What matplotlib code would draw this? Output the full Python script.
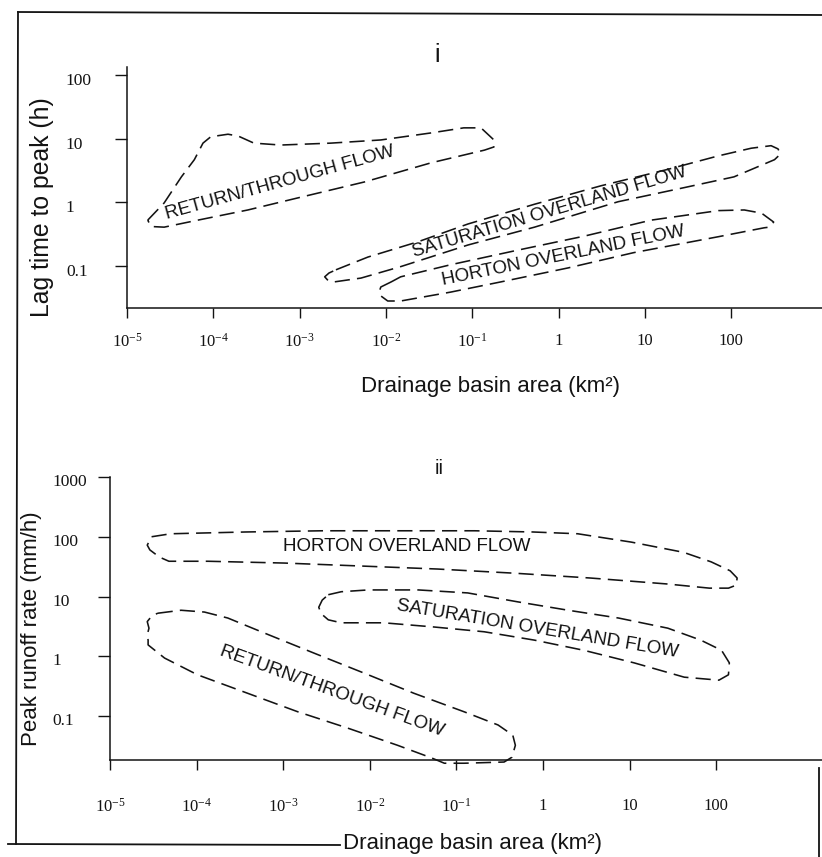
import numpy as np
import matplotlib
matplotlib.use('Agg')
import matplotlib.pyplot as plt
from matplotlib.lines import Line2D
import matplotlib.transforms as mtransforms

plt.rcParams['font.family'] = ['Liberation Sans', 'DejaVu Sans']
plt.rcParams['mathtext.fontset'] = 'custom'
plt.rcParams['mathtext.rm'] = 'Liberation Serif'
plt.rcParams['mathtext.it'] = 'Liberation Serif:italic'
plt.rcParams['mathtext.bf'] = 'Liberation Serif:bold'

# ---------------- data (log10 values) ----------------
x_ticks = [1e-5, 1e-4, 1e-3, 1e-2, 1e-1, 1, 10, 100]
x_tick_labels = [r'$\mathrm{10^{-5}}$', r'$\mathrm{10^{-4}}$', r'$\mathrm{10^{-3}}$',
                 r'$\mathrm{10^{-2}}$', r'$\mathrm{10^{-1}}$', '1', '10', '100']
lag_ticks = [0.1, 1, 10, 100]
lag_tick_labels = ['0.1', '1', '10', '100']
rate_ticks = [0.1, 1, 10, 100, 1000]
rate_tick_labels = ['0.1', '1', '10', '100', '1000']

# panel i : lag time to peak (h) vs drainage basin area (km2)
i_return_log_area = [-4.76, -4.57, -4.37, -4.22, -4.12, -4.03, -3.83, -3.71, -3.53, -3.22,
                     -2.64, -2.06, -1.48, -1.10, -0.90, -0.75, -0.75, -0.86, -1.48, -2.25,
                     -3.02, -3.60, -4.18, -4.57, -4.72]
i_return_log_lag = [-0.28, -0.01, 0.40, 0.67, 0.93, 1.03, 1.07, 1.04, 0.93, 0.90,
                    0.93, 0.98, 1.09, 1.17, 1.17, 0.98, 0.87, 0.82, 0.62, 0.32,
                    0.07, -0.12, -0.28, -0.39, -0.38]

i_saturation_log_area = [-2.58, -2.21, -1.63, -1.05, -0.28, 0.49, 1.27, 1.85, 2.23, 2.46,
                         2.54, 2.57, 2.50, 2.03, 1.45, 0.69, -0.28, -1.05, -1.83, -2.29,
                         -2.60, -2.67, -2.71, -2.66]
i_saturation_log_lag = [-1.06, -0.86, -0.62, -0.34, -0.03, 0.26, 0.52, 0.73, 0.85, 0.89,
                        0.84, 0.76, 0.67, 0.40, 0.23, 0.01, -0.39, -0.67, -1.01, -1.19,
                        -1.25, -1.23, -1.17, -1.11]

i_horton_log_area = [-1.94, -1.83, -1.25, -0.47, 0.30, 1.07, 1.85, 2.15, 2.35, 2.49,
                     2.44, 2.38, 1.85, 0.87, 0.11, -0.67, -1.25, -1.83, -1.98, -2.06,
                     -2.08, -2.06]
i_horton_log_lag = [-1.25, -1.17, -0.98, -0.75, -0.53, -0.28, -0.13, -0.12, -0.17, -0.31,
                    -0.39, -0.40, -0.54, -0.79, -1.03, -1.25, -1.41, -1.55, -1.55, -1.47,
                    -1.41, -1.33]

# panel ii : peak runoff rate (mm/h) vs drainage basin area (km2)
ii_horton_log_area = [-4.52, -4.30, -3.43, -2.55, -1.66, -0.79, -0.12, 0.40, 1.02, 1.62,
                      1.94, 2.16, 2.24, 2.23, 2.14, 1.92, 1.43, 0.54, -0.33, -1.22,
                      -2.10, -2.99, -3.87, -4.32, -4.43, -4.54, -4.57]
ii_horton_log_rate = [2.00, 2.05, 2.08, 2.10, 2.10, 2.10, 2.08, 2.05, 1.91, 1.74,
                      1.58, 1.43, 1.31, 1.19, 1.14, 1.14, 1.21, 1.31, 1.39, 1.46,
                      1.51, 1.56, 1.59, 1.59, 1.66, 1.78, 1.86]

ii_saturation_log_area = [-2.48, -2.33, -2.02, -1.44, -0.87, -0.29, 0.29, 0.87, 1.44, 1.82,
                          2.06, 2.15, 2.14, 2.03, 1.63, 1.05, 0.47, -0.10, -0.68, -1.26,
                          -1.84, -2.33, -2.48, -2.56, -2.59, -2.55]
ii_saturation_log_rate = [1.03, 1.08, 1.11, 1.11, 1.06, 0.91, 0.77, 0.64, 0.47, 0.27,
                          0.10, -0.11, -0.31, -0.40, -0.35, -0.11, 0.10, 0.27, 0.41, 0.49,
                          0.56, 0.56, 0.61, 0.71, 0.82, 0.94]

ii_return_log_area = [-4.45, -4.18, -3.91, -3.64, -3.22, -2.64, -2.07, -1.49, -0.91, -0.52,
                      -0.35, -0.32, -0.36, -0.45, -0.91, -1.14, -1.29, -1.68, -2.26, -2.83,
                      -3.41, -3.99, -4.37, -4.56, -4.56, -4.57, -4.55, -4.57, -4.52]
ii_return_log_rate = [0.72, 0.77, 0.74, 0.64, 0.39, 0.05, -0.28, -0.62, -0.93, -1.15,
                      -1.32, -1.49, -1.69, -1.77, -1.79, -1.79, -1.70, -1.49, -1.20, -0.93,
                      -0.62, -0.31, -0.03, 0.19, 0.27, 0.36, 0.47, 0.58, 0.67]

# ---------------- figure ----------------
W, H = 822, 857
INK = '#131313'
fig = plt.figure(figsize=(W / 100, H / 100), dpi=100)
fig.patch.set_facecolor('white')


def fx(px):
    return px / W


def fy(py):
    return 1 - py / H


def envelope(ax, la, lv):
    a = np.array(la + la[:1])
    v = np.array(lv + lv[:1])
    ax.plot(10 ** a, 10 ** v, color=INK, lw=1.15, linestyle=(0, (9.5, 4.5)),
            clip_on=False, dash_capstyle='butt')


def style_axes(ax, xpad, ylabpad):
    for s in ('top', 'right'):
        ax.spines[s].set_visible(False)
    for s in ('left', 'bottom'):
        ax.spines[s].set_linewidth(1.1)
        ax.spines[s].set_color(INK)
    ax.set_xscale('log')
    ax.set_yscale('log')
    ax.set_xticks(x_ticks)
    ax.set_xticklabels(x_tick_labels)
    ax.tick_params(axis='x', direction='out', length=7, width=1.0, color=INK,
                   pad=xpad, labelsize=12, labelcolor=INK,
                   labelfontfamily='Liberation Serif')
    ax.tick_params(axis='y', direction='out', length=9, width=1.0, color=INK,
                   pad=ylabpad, labelsize=12.5, labelcolor=INK,
                   labelfontfamily='Liberation Serif')
    ax.set_facecolor('none')


# ---- panel i ----
ax1 = fig.add_axes([fx(127), fy(308), fx(822) - fx(127), fy(67) - fy(308)])
style_axes(ax1, xpad=11, ylabpad=35)
ax1.set_xlim(1e-5, 10 ** 3.05)
ax1.set_ylim(10 ** -1.66, 10 ** 2.126)
ax1.set_yticks(lag_ticks)
ax1.set_yticklabels(lag_tick_labels, ha='left')
ax1.minorticks_off()
off1 = mtransforms.ScaledTranslation(0, -4 / 100, fig.dpi_scale_trans)
for lab in ax1.get_yticklabels():
    lab.set_transform(lab.get_transform() + off1)

envelope(ax1, i_return_log_area, i_return_log_lag)
envelope(ax1, i_saturation_log_area, i_saturation_log_lag)
envelope(ax1, i_horton_log_area, i_horton_log_lag)

txt = dict(ha='center', va='center', rotation_mode='anchor', color=INK, fontsize=13.5)
ax1.text(10 ** -3.23, 10 ** 0.31, 'RETURN/THROUGH FLOW', rotation=15.5, **txt)
ax1.text(10 ** -0.11, 10 ** -0.15, 'SATURATION OVERLAND FLOW', rotation=16.5, **txt)
ax1.text(10 ** 0.05, 10 ** -0.84, 'HORTON OVERLAND FLOW', rotation=11.5, **txt)

# ---- panel ii ----
ax2 = fig.add_axes([fx(110), fy(760), fx(822) - fx(110), fy(477) - fy(760)])
style_axes(ax2, xpad=20, ylabpad=32.5)
ax2.set_xlim(1e-5, 10 ** 3.22)
ax2.set_ylim(10 ** -1.736, 10 ** 3.0)
ax2.set_yticks(rate_ticks)
ax2.set_yticklabels(rate_tick_labels, ha='left')
ax2.minorticks_off()
off2 = mtransforms.ScaledTranslation(0, -3 / 100, fig.dpi_scale_trans)
for lab in ax2.get_yticklabels():
    lab.set_transform(lab.get_transform() + off2)

envelope(ax2, ii_horton_log_area, ii_horton_log_rate)
envelope(ax2, ii_saturation_log_area, ii_saturation_log_rate)
envelope(ax2, ii_return_log_area, ii_return_log_rate)

ax2.text(10 ** -1.57, 10 ** 1.83, 'HORTON OVERLAND FLOW', rotation=0, **txt)
ax2.text(10 ** -0.07, 10 ** 0.46, 'SATURATION OVERLAND FLOW', rotation=-9.5, **txt)
ax2.text(10 ** -2.44, 10 ** -0.58, 'RETURN/THROUGH FLOW', rotation=-20, **txt)

# ---- axis titles / labels ----
fig.text(fx(437), fy(55), 'i', ha='center', va='center', fontsize=18, color=INK)
fig.text(fx(439), fy(468), 'ii', ha='center', va='center', fontsize=14.5, color=INK)
fig.text(fx(490), fy(387), 'Drainage basin area (km²)', ha='center', va='center',
         fontsize=16, color=INK)
fig.text(fx(472), fy(844), 'Drainage basin area (km²)', ha='center', va='center',
         fontsize=16, color=INK)
fig.text(fx(42), fy(207), 'Lag time to peak (h)', ha='center', va='center',
         rotation=90, fontsize=17.8, color=INK)
fig.text(fx(31), fy(629), 'Peak runoff rate (mm/h)', ha='center', va='center',
         rotation=90, fontsize=16, color=INK)

# ---- scanned page frame ----
frame = [((18, 12), (822, 15)), ((18, 12), (16, 844)), ((8, 844), (340, 845)),
         ((819, 768), (819, 857))]
for (x0, y0), (x1, y1) in frame:
    fig.add_artist(Line2D([fx(x0), fx(x1)], [fy(y0), fy(y1)], transform=fig.transFigure,
                          color=INK, lw=1.3))

fig.savefig('out.png', dpi=100, facecolor='white')
